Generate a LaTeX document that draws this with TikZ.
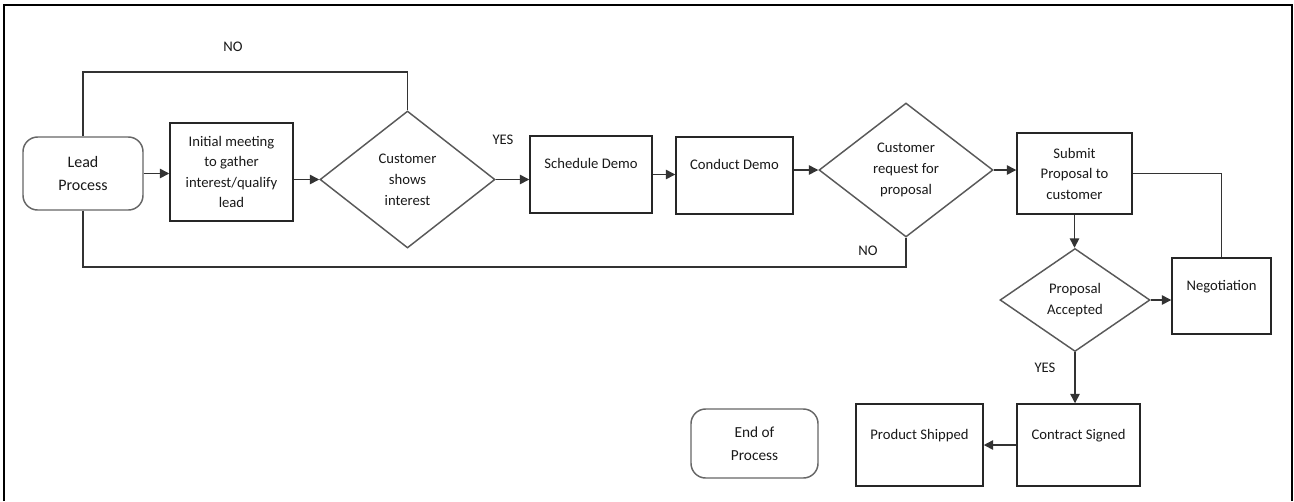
\documentclass[tikz,border=0pt]{standalone}
\usepackage{fontspec}
\setmainfont{Carlito}
\usetikzlibrary{shapes.geometric,arrows.meta}
\begin{document}
\begin{tikzpicture}[x=0.75pt, y=-0.75pt, >={Triangle[length=7pt,width=7pt]},
		every node/.style={font=\fontsize{11}{15.4}\selectfont, text=black!90},
		proc/.style={draw=black!85, line width=1.1pt, rectangle, align=center, inner sep=2pt},
		upper/.style={text height=8pt, text depth=17pt},
		decide/.style={draw=black!65, line width=1.1pt, diamond, align=center, inner sep=0pt, font=\fontsize{11}{15.75}\selectfont},
		term/.style={draw=black!60, line width=1.1pt, rounded corners=11pt, align=center},
		link/.style={draw=black!80, line width=1.1pt},
		tag/.style={inner sep=1pt}]
			\useasboundingbox (0,0) rectangle (1294,501);
			\draw[line width=1.5pt] (3.5,501) -- (3.5,5) -- (1291.5,5) -- (1291.5,501);
			% main row
			\node[term, minimum width=90pt, minimum height=54.75pt, font=\fontsize{12}{17.25}\selectfont] (lead) at (83,173.5) {Lead\\Process};
			\node[proc, minimum width=92.25pt, minimum height=73.5pt] (meet) at (231.5,172) {Initial meeting\\to gather\\interest/qualify\\lead};
			\node[decide, minimum width=131.25pt, minimum height=102.75pt] (shows) at (407.5,179.5) {Customer\\shows\\interest};
			\node[proc, upper, minimum width=91.5pt, minimum height=57.75pt] (sched) at (591,174.5) {Schedule Demo};
			\node[proc, upper, minimum width=87.75pt, minimum height=57.75pt] (conduct) at (734.5,175.5) {Conduct Demo};
			\node[decide, minimum width=130.5pt, minimum height=100.5pt] (asks) at (906,170) {Customer\\request for\\proposal};
			\node[proc, minimum width=86.25pt, minimum height=60.75pt] (submit) at (1074.5,173.5) {Submit\\Proposal to\\customer};
			% lower part
			\node[decide, minimum width=112.5pt, minimum height=77.25pt] (accept) at (1075,300) {Proposal\\Accepted};
			\node[proc, upper, minimum width=74.25pt, minimum height=57pt] (nego) at (1221.5,296) {Negotiation};
			\node[proc, upper, minimum width=92.25pt, minimum height=61.5pt] (signed) at (1078.5,445) {Contract Signed};
			\node[proc, upper, minimum width=95.25pt, minimum height=61.5pt] (shipped) at (919.5,445) {Product Shipped};
			\node[term, minimum width=95.25pt, minimum height=51.75pt, font=\fontsize{11.5}{17}\selectfont] (done) at (754.5,443.5) {End of\\Process};
			% labels
			\node[tag] (notop) at (233,47) {NO};
			\node[tag] (yesrow) at (503,140) {YES};
			\node[tag] (nolow) at (868,251) {NO};
			\node[tag] (yesdown) at (1045,368) {YES};
			\coordinate (looptop) at (0,72);
			\coordinate (loopbot) at (0,267);
			% connectors
			\draw[link, ->] (lead.east) -- (lead.east -| meet.west);
			\draw[link, ->] (meet.east |- shows.west) -- (shows.west);
			\draw[link, ->] (shows.east) -- (shows.east -| sched.west);
			\draw[link, ->] (sched.east) -- (sched.east -| conduct.west);
			\draw[link, ->] (conduct.east |- asks.west) -- (asks.west);
			\draw[link, ->] (asks.east) -- (asks.east -| submit.west);
			\draw[link, ->] (submit.south) -- (submit.south |- accept.north);
			\draw[link, ->] (accept.east) -- (accept.east -| nego.west);
			\draw[link, ->] (accept.south) -- (accept.south |- signed.north);
			\draw[link, ->] (signed.west) -- (shipped.east);
			\draw[link] (nego.north) |- (submit.east);
			\draw[link] (lead.north) |- (looptop -| shows.north) -- (shows.north);
			\draw[link] (lead.south) |- (loopbot -| asks.south) -- (asks.south);
		\end{tikzpicture}
\end{document}
